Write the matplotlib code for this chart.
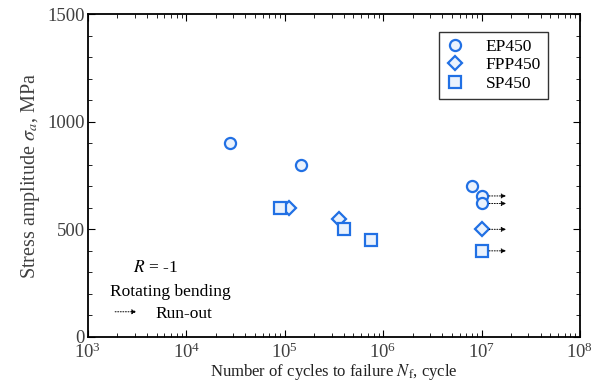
import matplotlib
matplotlib.use("Agg")
import matplotlib.pyplot as plt
import numpy as np

plt.rcParams['font.family'] = ['Liberation Serif', 'DejaVu Serif']
plt.rcParams['mathtext.fontset'] = 'stix'

# data
ep_n = [2.8e4, 1.45e5, 8.0e6, 1.0e7, 1.0e7]
ep_s = [900, 800, 700, 655, 620]
fpp_n = [3.6e5, 1.12e5, 1.0e7]
fpp_s = [550, 600, 500]
sp_n = [9.0e4, 4.0e5, 7.5e5, 1.0e7]
sp_s = [600, 500, 450, 400]
# run-out specimens (N, stress)
runout_n = [1.0e7, 1.0e7, 1.0e7, 1.0e7]
runout_s = [655, 620, 500, 400]

BLUE = '#2170e4'
FACE = '#eaf2fd'
GREY = '#404040'

fig = plt.figure(figsize=(6.01, 3.90), dpi=100)
ax = fig.add_axes([0.146, 0.136, 0.819, 0.828])

mk = dict(linestyle='none', markersize=8, markeredgewidth=1.6,
          markeredgecolor=BLUE, markerfacecolor=FACE)
ax.plot(ep_n, ep_s, marker='o', label='EP450', **mk)
ax.plot(fpp_n, fpp_s, marker='D', label='FPP450', **dict(mk, markersize=7))
ax.plot(sp_n, sp_s, marker='s', label='SP450', **mk)

for n, s in zip(runout_n, runout_s):
    ax.annotate('', xy=(n * 1.9, s), xytext=(n * 1.12, s),
                arrowprops=dict(arrowstyle='-|>', color='black', lw=0.7,
                                linestyle=':', mutation_scale=7))

ax.set_xscale('log')
ax.set_xlim(1e3, 1e8)
ax.set_ylim(0, 1500)
ax.set_yticks([0, 500, 1000, 1500])
ax.set_yticks(np.arange(0, 1501, 100), minor=True)
ax.tick_params(which='both', direction='in', top=True, right=True,
               labelsize=13.5, labelcolor=GREY)
ax.tick_params(which='major', length=5)
ax.tick_params(which='minor', length=3)
ax.tick_params(axis='y', pad=2)
ax.tick_params(axis='x', pad=4)
for sp in ax.spines.values():
    sp.set_linewidth(1.3)

ax.set_xlabel('Number of cycles to failure $N_\\mathrm{f}$, cycle',
              fontsize=12, labelpad=0, color='#222222')
ax.set_ylabel('Stress amplitude $\\sigma_a$, MPa', fontsize=14.5,
              color=GREY, labelpad=4)

ax.legend(loc='upper right', bbox_to_anchor=(0.935, 0.944), fontsize=12.5,
          frameon=True, fancybox=False, edgecolor='black',
          handlelength=1.0, handletextpad=1.3, borderpad=0.4,
          labelspacing=0.12, borderaxespad=0)

ax.text(0.091, 0.2, '$R$ = -1', transform=ax.transAxes, fontsize=12.5)
ax.text(0.045, 0.128, 'Rotating bending', transform=ax.transAxes,
        fontsize=12.5)
ax.annotate('', xy=(0.105, 0.078), xytext=(0.05, 0.078),
            xycoords='axes fraction',
            arrowprops=dict(arrowstyle='-|>', color='black', lw=0.7,
                            linestyle=':', mutation_scale=7))
ax.text(0.137, 0.058, 'Run-out', transform=ax.transAxes, fontsize=12.5)

fig.savefig('out.png', dpi=100)
